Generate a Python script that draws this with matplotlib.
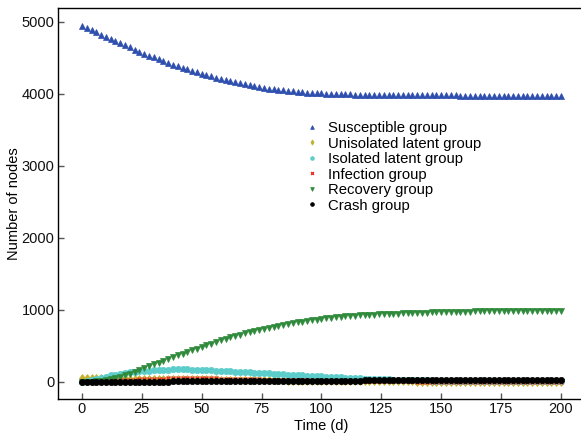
import numpy as np
import matplotlib
matplotlib.use("Agg")
import matplotlib.pyplot as plt

plt.rcParams['font.family'] = ['Liberation Sans', 'DejaVu Sans']

# sampling days (every 2 days, 0..200)
days = np.arange(0, 201, 2)

susceptible = [
    4950, 4918, 4886, 4855, 4824, 4793, 4763, 4733, 4703, 4674,
    4645, 4616, 4588, 4560, 4533, 4506, 4480, 4455, 4431, 4408,
    4386, 4364, 4343, 4322, 4302, 4282, 4263, 4244, 4226, 4208,
    4191, 4175, 4160, 4146, 4132, 4119, 4106, 4094, 4083, 4073,
    4064, 4056, 4048, 4041, 4035, 4029, 4024, 4019, 4015, 4011,
    4008, 4005, 4002, 3999, 3997, 3995, 3993, 3991, 3989, 3988,
    3987, 3986, 3985, 3984, 3983, 3982, 3981, 3980, 3980, 3980,
    3979, 3979, 3979, 3979, 3978, 3978, 3978, 3978, 3978, 3977,
    3977, 3977, 3977, 3977, 3977, 3976, 3976, 3976, 3976, 3976,
    3976, 3976, 3976, 3976, 3976, 3976, 3976, 3976, 3976, 3976,
    3976,
]

unisolated_latent = [
    50, 50, 49, 49, 48, 48, 47, 47, 46, 46,
    45, 45, 44, 44, 43, 43, 42, 41, 41, 40,
    40, 39, 38, 37, 36, 35, 34, 33, 32, 31,
    30, 29, 28, 27, 26, 25, 24, 23, 22, 21,
    20, 19, 18, 17, 17, 16, 15, 14, 13, 13,
    12, 11, 11, 10, 10, 9, 9, 8, 8, 7,
    7, 6, 6, 6, 5, 5, 5, 4, 4, 4,
    3, 3, 3, 3, 2, 2, 2, 2, 2, 1,
    1, 1, 1, 1, 1, 1, 0, 0, 0, 0,
    0, 0, 0, 0, 0, 0, 0, 0, 0, 0,
    0,
]

isolated_latent = [
    0, 15, 30, 45, 58, 72, 88, 100, 112, 122,
    130, 138, 145, 151, 156, 161, 165, 168, 170, 171,
    172, 172, 171, 170, 168, 166, 163, 160, 156, 153,
    149, 146, 142, 139, 135, 132, 128, 124, 120, 116,
    112, 108, 104, 100, 96, 92, 88, 85, 82, 78,
    75, 71, 67, 63, 60, 56, 53, 50, 47, 44,
    42, 39, 37, 34, 32, 30, 28, 26, 24, 22,
    21, 19, 18, 17, 16, 15, 14, 13, 12, 11,
    10, 10, 9, 9, 8, 8, 7, 7, 7, 6,
    6, 6, 5, 5, 5, 5, 4, 4, 4, 4,
    4,
]

infection = [
    0, 2, 4, 6, 9, 12, 15, 18, 21, 24,
    27, 30, 33, 36, 39, 41, 43, 45, 47, 48,
    49, 50, 50, 50, 50, 49, 48, 47, 46, 45,
    44, 42, 41, 39, 38, 36, 35, 33, 31, 30,
    28, 27, 25, 24, 22, 21, 20, 18, 17, 16,
    15, 14, 13, 12, 11, 10, 10, 9, 8, 8,
    7, 7, 6, 6, 5, 5, 5, 4, 4, 4,
    3, 3, 3, 3, 2, 2, 2, 2, 2, 2,
    1, 1, 1, 1, 1, 1, 1, 0, 0, 0,
    0, 0, 0, 0, 0, 0, 0, 0, 0, 0,
    0,
]

recovery = [
    0, 0, 2, 5, 11, 20, 32, 48, 66, 87,
    110, 135, 160, 186, 213, 240, 265, 290, 315, 340,
    365, 389, 413, 437, 461, 485, 508, 530, 552, 574,
    595, 615, 634, 653, 672, 690, 706, 722, 737, 751,
    765, 778, 790, 802, 814, 825, 835, 845, 855, 865,
    875, 882, 889, 896, 903, 910, 914, 918, 922, 925,
    928, 932, 936, 939, 943, 946, 948, 951, 953, 956,
    958, 960, 962, 964, 966, 968, 969, 971, 972, 974,
    975, 976, 977, 978, 979, 980, 981, 982, 982, 983,
    984, 985, 985, 986, 986, 987, 987, 988, 988, 989,
    990,
]

crash = [
    0, 0, 0, 0, 0, 1, 1, 1, 1, 1,
    1, 2, 2, 2, 2, 3, 3, 3, 3, 4,
    4, 4, 5, 5, 5, 6, 6, 6, 7, 7,
    8, 8, 8, 9, 9, 10, 10, 10, 11, 11,
    12, 12, 12, 13, 13, 13, 14, 14, 14, 15,
    15, 15, 16, 16, 16, 17, 17, 17, 17, 18,
    18, 18, 18, 19, 19, 19, 19, 20, 20, 20,
    20, 20, 21, 21, 21, 21, 21, 22, 22, 22,
    22, 22, 22, 22, 23, 23, 23, 23, 23, 23,
    23, 24, 24, 24, 24, 24, 24, 24, 24, 25,
    25,
]

series = [
    ("Susceptible group", susceptible, "^", "#2e4fae", 4.5),
    ("Unisolated latent group", unisolated_latent, "d", "#c2b12f", 4.5),
    ("Isolated latent group", isolated_latent, "o", "#5ccdcb", 4.5),
    ("Infection group", infection, "x", "#e8352b", 3.5),
    ("Recovery group", recovery, "v", "#2f8a3b", 4.5),
    ("Crash group", crash, "o", "#000000", 4.5),
]

fig = plt.figure(figsize=(5.81, 4.34), dpi=100)
ax = fig.add_axes([0.0998, 0.0806, 0.907, 0.902])

for label, values, marker, color, size in series:
    ax.plot(days, values, linestyle="none", marker=marker, color=color,
            markersize=size, markeredgewidth=1.0 if marker == "x" else 0.5,
            label=label)

ax.set_xlim(-10, 210)
ax.set_ylim(-240, 5200)
ax.set_xticks([0, 25, 50, 75, 100, 125, 150, 175, 200])
ax.set_yticks([0, 1000, 2000, 3000, 4000, 5000])
ax.tick_params(direction="in", length=4, width=1, color="#555555",
               labelsize=10.5, labelcolor="#111111", pad=2.5)
for spine in ax.spines.values():
    spine.set_linewidth(1.0)

ax.set_xlabel("Time (d)", fontsize=10.5, labelpad=2)
ax.set_ylabel("Number of nodes", fontsize=10.5)
ax.yaxis.set_label_coords(-0.071, 0.5)

ax.legend(loc="upper left", bbox_to_anchor=(0.459, 0.725), frameon=False,
          fontsize=10.7, markerscale=0.6, handlelength=0.8, handletextpad=0.7,
          labelspacing=0.1, borderaxespad=0)

fig.savefig("out.png", dpi=100)
